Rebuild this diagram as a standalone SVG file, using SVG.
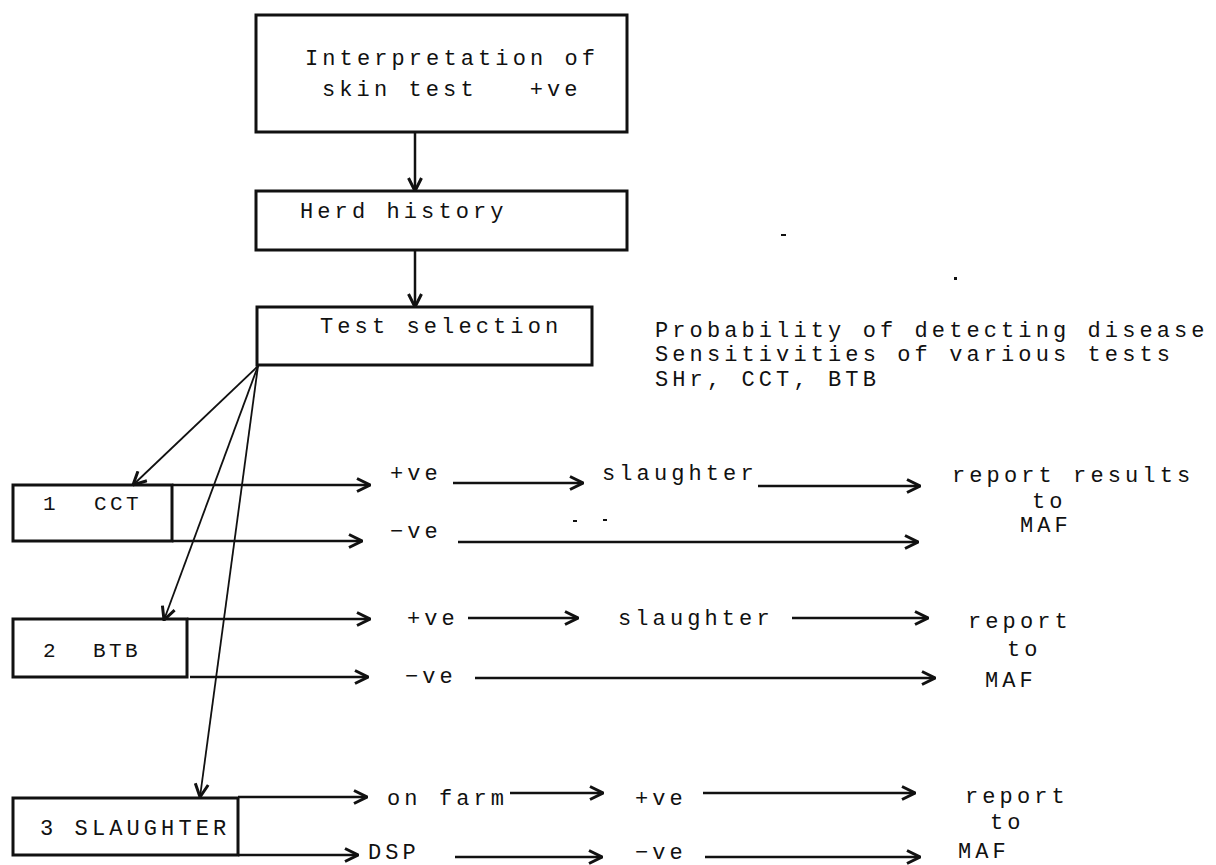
<svg xmlns="http://www.w3.org/2000/svg" width="1216" height="865" viewBox="0 0 1216 865">
  <style>
    text { font-family: "Liberation Mono", "DejaVu Sans Mono", monospace; font-size: 22px; letter-spacing: 4.1px; fill: #111; white-space: pre; }
    .small { font-size: 21px; letter-spacing: 3.4px; }
    .box { fill: none; stroke: #111; stroke-width: 3; }
    .wire { fill: none; stroke: #111; stroke-width: 2.5; marker-end: url(#head); }
    .thin { fill: none; stroke: #111; stroke-width: 1.8; marker-end: url(#head); }
  </style>
  <defs>
    <marker id="head" viewBox="0 0 16 16" refX="15" refY="8" markerWidth="16" markerHeight="16" markerUnits="userSpaceOnUse" orient="auto">
      <path d="M2,1.5 L15,8 L2,14.5" fill="none" stroke="#111" stroke-width="3" stroke-linejoin="miter"/>
    </marker>
  </defs>
  <rect width="1216" height="865" fill="#fff"/>

  <!-- flow nodes -->
  <g id="interpretation">
    <rect class="box" x="256" y="15" width="371" height="117"/>
    <text x="305" y="65">Interpretation of</text>
    <text x="322" y="96">skin test   +ve</text>
  </g>
  <g id="herd-history">
    <rect class="box" x="256" y="191" width="371" height="59"/>
    <text x="300" y="218">Herd history</text>
  </g>
  <g id="test-selection">
    <rect class="box" x="257" y="307" width="335" height="58"/>
    <text x="320" y="333">Test selection</text>
  </g>
  <g id="considerations">
    <text x="655" y="337">Probability of detecting disease</text>
    <text x="655" y="361">Sensitivities of various tests</text>
    <text x="655" y="386">SHr, CCT, BTB</text>
  </g>

  <g id="test-cct">
    <rect class="box" x="13" y="485" width="159" height="56"/>
    <text class="small" x="43" y="510">1<tspan x="94">CCT</tspan></text>
  </g>
  <g id="test-btb">
    <rect class="box" x="13" y="619" width="174" height="58"/>
    <text class="small" x="43" y="657">2<tspan x="93">BTB</tspan></text>
  </g>
  <g id="test-slaughter">
    <rect class="box" x="13" y="798" width="225" height="57"/>
    <text x="40" y="835">3 SLAUGHTER</text>
  </g>

  <!-- outcome labels -->
  <g id="cct-outcomes">
    <text x="390" y="480">+ve</text>
    <text x="390" y="538">−ve</text>
    <text x="602" y="480">slaughter</text>
    <text x="952" y="482">report results</text>
    <text x="1032" y="508">to</text>
    <text x="1020" y="532">MAF</text>
  </g>
  <g id="btb-outcomes">
    <text x="407" y="625">+ve</text>
    <text x="405" y="683">−ve</text>
    <text x="618" y="625">slaughter</text>
    <text x="968" y="628">report</text>
    <text x="1007" y="656">to</text>
    <text x="985" y="687">MAF</text>
  </g>
  <g id="slaughter-outcomes">
    <text x="387" y="805">on farm</text>
    <text x="368" y="859">DSP</text>
    <text x="635" y="805">+ve</text>
    <text x="635" y="859">−ve</text>
    <text x="965" y="803">report</text>
    <text x="990" y="829">to</text>
    <text x="958" y="858">MAF</text>
  </g>

  <!-- connectors -->
  <g id="connectors">
    <path class="wire" d="M415,132 L415,191"/>
    <path class="wire" d="M415,250 L415,307"/>

    <path class="thin" d="M258,366 L133,485"/>
    <path class="thin" d="M258,366 L164,620"/>
    <path class="thin" d="M258,366 L200,797"/>

    <!-- CCT branch -->
    <path class="wire" d="M172,485 L370,485"/>
    <path class="wire" d="M172,541 L362,541"/>
    <path class="wire" d="M453,483 L583,483"/>
    <path class="wire" d="M758,486 L920,486"/>
    <path class="wire" d="M458,542 L918,542"/>

    <!-- BTB branch -->
    <path class="wire" d="M187,619 L370,619"/>
    <path class="wire" d="M190,677 L368,677"/>
    <path class="wire" d="M468,618 L578,618"/>
    <path class="wire" d="M792,618 L928,618"/>
    <path class="wire" d="M475,678 L935,678"/>

    <!-- slaughter branch -->
    <path class="wire" d="M238,797 L367,797"/>
    <path class="wire" d="M238,855 L358,855"/>
    <path class="wire" d="M510,793 L603,793"/>
    <path class="wire" d="M703,793 L915,793"/>
    <path class="wire" d="M455,857 L602,857"/>
    <path class="wire" d="M705,857 L920,857"/>
  </g>

  <!-- small stray marks -->
  <g id="marks" fill="#111">
    <rect x="781" y="234" width="5" height="2"/>
    <rect x="954" y="277" width="3" height="3"/>
    <rect x="573" y="520" width="4" height="2"/>
    <rect x="603" y="519" width="4" height="2"/>
  </g>
</svg>
